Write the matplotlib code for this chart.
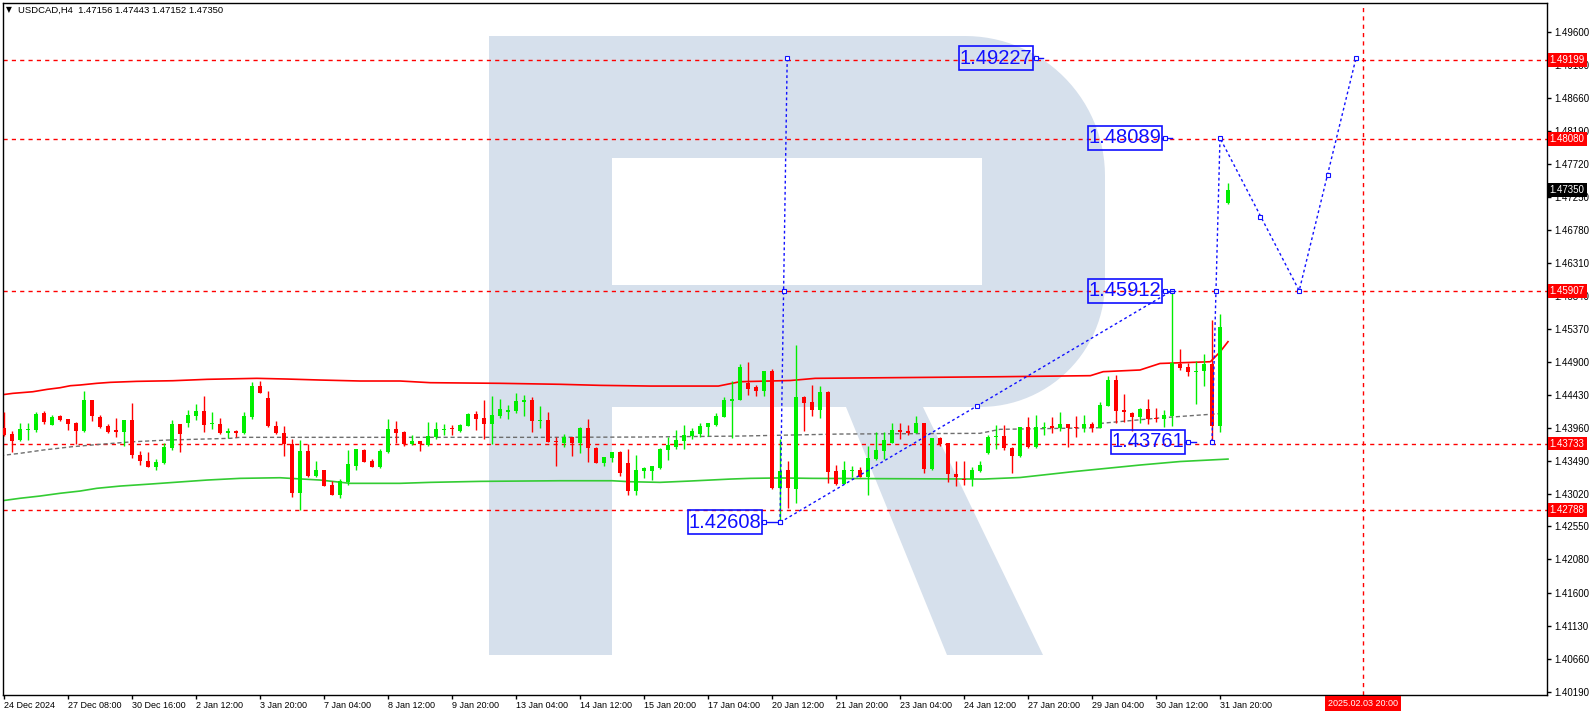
import matplotlib
matplotlib.use('Agg')
import matplotlib.pyplot as plt
import matplotlib.transforms as mtrans
import numpy as np
from matplotlib import font_manager
from matplotlib.patches import Polygon, Rectangle

W, H = 1596, 716

# ---- data (H4 bars) ----
opens = [1.43949, 1.43868, 1.43782, 1.43925, 1.43925, 1.44172, 1.43996, 1.44129, 1.44082, 1.44029,
         1.43911, 1.44353, 1.44115, 1.43982, 1.43925, 1.43901, 1.44068, 1.43568, 1.43483, 1.43393,
         1.43450, 1.43673, 1.44011, 1.44021, 1.44125, 1.44196, 1.44006, 1.44011, 1.43886, 1.43911,
         1.43878, 1.44115, 1.44552, 1.44386, 1.43982, 1.43886, 1.43725, 1.43031, 1.43626, 1.43269,
         1.43355, 1.43141, 1.42998, 1.43188, 1.43416, 1.43640, 1.43483, 1.43402, 1.43616, 1.43939,
         1.43901, 1.43721, 1.43768, 1.43711, 1.43821, 1.43925, 1.43958, 1.43911, 1.43986, 1.44153,
         1.44092, 1.44011, 1.44125, 1.44186, 1.44196, 1.44329, 1.44353, 1.44058, 1.44068, 1.43758,
         1.43744, 1.43829, 1.43744, 1.43949, 1.43673, 1.43459, 1.43530, 1.43616, 1.43459, 1.43060,
         1.43345, 1.43345, 1.43388, 1.43640, 1.43687, 1.43768, 1.43839, 1.43868, 1.43972, 1.43996,
         1.44115, 1.44339, 1.44353, 1.44595, 1.44538, 1.44481, 1.44767, 1.43094, 1.43355, 1.43080,
         1.44392, 1.44320, 1.44210, 1.44471, 1.43341, 1.43155, 1.43345, 1.43355, 1.43259, 1.43511,
         1.43630, 1.43744, 1.43925, 1.43911, 1.43886, 1.44021, 1.43369, 1.43807, 1.43735, 1.43298,
         1.43226, 1.43222, 1.43345, 1.43593, 1.43821, 1.43839, 1.43673, 1.43559, 1.43964, 1.43678,
         1.43949, 1.43982, 1.43958, 1.44011, 1.43958, 1.43949, 1.44011, 1.43958, 1.44272, 1.44638,
         1.44210, 1.44172, 1.44115, 1.44225, 1.44092, 1.44082, 1.44129, 1.44862, 1.44819, 1.44757,
         1.44771, 1.44862, 1.43986, 1.47156]
highs = [1.44186, 1.43915, 1.44029, 1.44021, 1.44186, 1.44196, 1.44139, 1.44139, 1.44085, 1.44035,
         1.44481, 1.44360, 1.44139, 1.44011, 1.44096, 1.44075, 1.44314, 1.43626, 1.43616, 1.43511,
         1.43744, 1.44068, 1.44015, 1.44210, 1.44291, 1.44414, 1.44186, 1.44092, 1.43954, 1.43925,
         1.44186, 1.44614, 1.44624, 1.44481, 1.44053, 1.43982, 1.43797, 1.43782, 1.43721, 1.43483,
         1.43360, 1.43202, 1.43226, 1.43640, 1.43654, 1.43654, 1.43511, 1.43650, 1.44082, 1.44053,
         1.43915, 1.43854, 1.43770, 1.44043, 1.44043, 1.44011, 1.43996, 1.44011, 1.44172, 1.44200,
         1.44353, 1.44410, 1.44363, 1.44282, 1.44448, 1.44424, 1.44400, 1.44267, 1.44177, 1.43829,
         1.43868, 1.43832, 1.43972, 1.44078, 1.43678, 1.43544, 1.43616, 1.43630, 1.43650, 1.43568,
         1.43402, 1.43415, 1.43664, 1.43821, 1.43925, 1.43996, 1.43958, 1.44021, 1.44029, 1.44172,
         1.44400, 1.44624, 1.44866, 1.44899, 1.44562, 1.44770, 1.44795, 1.43793, 1.43483, 1.45137,
         1.44410, 1.44567, 1.44552, 1.44486, 1.43426, 1.43483, 1.43416, 1.43402, 1.43697, 1.43901,
         1.43901, 1.44021, 1.44021, 1.43996, 1.44125, 1.44029, 1.43818, 1.43829, 1.43738, 1.43483,
         1.43483, 1.43402, 1.43483, 1.43854, 1.43996, 1.43996, 1.43687, 1.43972, 1.44106, 1.44139,
         1.44043, 1.44106, 1.44186, 1.44015, 1.44125, 1.44139, 1.44043, 1.44329, 1.44695, 1.44709,
         1.44434, 1.44175, 1.44243, 1.44363, 1.44235, 1.44210, 1.45912, 1.45076, 1.44885, 1.44909,
         1.45007, 1.45490, 1.45582, 1.47443]
lows = [1.43840, 1.43616, 1.43775, 1.43782, 1.43901, 1.44011, 1.43990, 1.44058, 1.43925, 1.43721,
        1.43901, 1.44053, 1.43958, 1.43886, 1.43829, 1.43697, 1.43530, 1.43426, 1.43395, 1.43355,
        1.43445, 1.43640, 1.43616, 1.43972, 1.44068, 1.43901, 1.43935, 1.43868, 1.43807, 1.43829,
        1.43872, 1.44078, 1.44448, 1.43964, 1.43868, 1.43554, 1.42974, 1.42788, 1.43259, 1.43259,
        1.43126, 1.42995, 1.42960, 1.43141, 1.43355, 1.43469, 1.43393, 1.43379, 1.43601, 1.43735,
        1.43701, 1.43711, 1.43630, 1.43701, 1.43792, 1.43854, 1.43854, 1.43901, 1.43982, 1.43925,
        1.43797, 1.43721, 1.44092, 1.44082, 1.44172, 1.44125, 1.43901, 1.43949, 1.43755, 1.43412,
        1.43687, 1.43554, 1.43601, 1.43473, 1.43450, 1.43412, 1.43473, 1.43269, 1.42998, 1.42998,
        1.43236, 1.43212, 1.43365, 1.43497, 1.43654, 1.43654, 1.43797, 1.43821, 1.43839, 1.43986,
        1.44106, 1.43807, 1.44350, 1.44430, 1.44405, 1.44405, 1.43084, 1.42608, 1.42809, 1.42880,
        1.43915, 1.44129, 1.44092, 1.43165, 1.43148, 1.43151, 1.43259, 1.43250, 1.42998, 1.43497,
        1.43507, 1.43735, 1.43792, 1.43854, 1.43878, 1.43316, 1.43355, 1.43701, 1.43188, 1.43131,
        1.43141, 1.43131, 1.43331, 1.43583, 1.43650, 1.43640, 1.43316, 1.43544, 1.43664, 1.43664,
        1.43854, 1.43878, 1.43911, 1.43678, 1.43821, 1.43892, 1.43892, 1.43949, 1.44267, 1.44021,
        1.44043, 1.43915, 1.44029, 1.44011, 1.44043, 1.43972, 1.43982, 1.44774, 1.44695, 1.44291,
        1.44557, 1.43761, 1.43892, 1.47152]
closes = [1.43854, 1.43772, 1.43939, 1.43939, 1.44153, 1.44043, 1.44110, 1.44068, 1.44011, 1.43911,
          1.44353, 1.44125, 1.43972, 1.43896, 1.43896, 1.44068, 1.43568, 1.43487, 1.43402, 1.43469,
          1.43678, 1.44011, 1.43868, 1.44139, 1.44196, 1.43996, 1.44029, 1.43886, 1.43915, 1.43878,
          1.44125, 1.44552, 1.44457, 1.43986, 1.43878, 1.43725, 1.43031, 1.43626, 1.43269, 1.43355,
          1.43131, 1.42998, 1.43202, 1.43440, 1.43654, 1.43473, 1.43402, 1.43626, 1.43939, 1.43886,
          1.43721, 1.43768, 1.43721, 1.43839, 1.43939, 1.43939, 1.43935, 1.43996, 1.44153, 1.44082,
          1.44011, 1.44139, 1.44225, 1.44210, 1.44339, 1.44353, 1.44058, 1.44068, 1.43758, 1.43750,
          1.43829, 1.43744, 1.43949, 1.43664, 1.43459, 1.43536, 1.43616, 1.43308, 1.43060, 1.43355,
          1.43388, 1.43412, 1.43650, 1.43711, 1.43782, 1.43854, 1.43911, 1.43982, 1.44021, 1.44125,
          1.44353, 1.44363, 1.44819, 1.44516, 1.44481, 1.44767, 1.43094, 1.43345, 1.43094, 1.44392,
          1.44306, 1.44210, 1.44471, 1.43331, 1.43151, 1.43355, 1.43350, 1.43259, 1.43521, 1.43640,
          1.43782, 1.43925, 1.43901, 1.43878, 1.44021, 1.43369, 1.43815, 1.43721, 1.43293, 1.43250,
          1.43212, 1.43355, 1.43426, 1.43829, 1.43839, 1.43664, 1.43559, 1.43964, 1.43678, 1.43964,
          1.43972, 1.43958, 1.44011, 1.43949, 1.43949, 1.44011, 1.43958, 1.44282, 1.44638, 1.44196,
          1.44177, 1.44115, 1.44225, 1.44082, 1.44078, 1.44139, 1.44876, 1.44805, 1.44757, 1.44767,
          1.44862, 1.43986, 1.45392, 1.47350]

# indicator lines (bar index, price)
upper_x = [-0.5, 1.1, 3.6, 5.4, 7, 8.3, 9.5, 11.6, 13.3, 16.6, 21.1, 25.4, 31.6, 35.4, 39.5, 44.5,
           49.5, 53.3, 62, 69.5, 74.5, 80.8, 89.3, 92, 98.3, 101.4, 124.5, 135.8, 137.4, 142,
           144.5, 150.8, 152, 153]
upper_y = [1.44424, 1.44448, 1.44471, 1.44505, 1.44528, 1.44557, 1.44567, 1.44591, 1.44605, 1.44619,
           1.44628, 1.44648, 1.44662, 1.44652, 1.44638, 1.44624, 1.44624, 1.44600, 1.44591, 1.44577,
           1.44562, 1.44552, 1.44552, 1.44614, 1.44631, 1.44662, 1.44685, 1.44700, 1.44757, 1.44781,
           1.44874, 1.44899, 1.45038, 1.45185]
lower_x = [-0.5, 2, 4.5, 7, 9.5, 11.6, 14.5, 18.3, 22.4, 25.4, 29.5, 34.5, 35.8, 39.5, 43.3, 49.5,
           53.3, 59.5, 69.5, 76, 78.3, 82, 85.8, 88.3, 90.8, 93.3, 97, 101, 122.4, 127, 133.6,
           142, 147, 153]
lower_y = [1.42913, 1.42952, 1.42984, 1.43023, 1.43055, 1.43094, 1.43126, 1.43155, 1.43188, 1.43212,
           1.43236, 1.43245, 1.43236, 1.43212, 1.43165, 1.43165, 1.43179, 1.43193, 1.43202, 1.43202,
           1.43188, 1.43179, 1.43198, 1.43212, 1.43226, 1.43236, 1.43242, 1.43236, 1.43226, 1.43248,
           1.43331, 1.43426, 1.43476, 1.43511]
mid_x = [-0.5, 2, 4.9, 8.5, 12, 16.1, 20.4, 28.3, 29.5, 67.4, 79.5, 92, 104.5, 122, 124.5, 137,
         137.2, 144.5, 152.5]
mid_y = [1.43559, 1.43593, 1.43640, 1.43687, 1.43721, 1.43758, 1.43782, 1.43807, 1.43821, 1.43821,
         1.43825, 1.43839, 1.43868, 1.43878, 1.43935, 1.43958, 1.44021, 1.44098, 1.44163]

# horizontal levels and their axis labels
levels = [1.49199, 1.48080, 1.45907, 1.43733, 1.42788]
level_labels = ['1.49199', '1.48080', '1.45907', '1.43733', '1.42788']
last_price = 1.47350

# forecast drawing
wave_x = [97, 97.9]
wave_y = [1.42608, 1.49227]
trend_x = [97, 146]
trend_y = [1.42608, 1.45912]
fcast_x = [151, 152, 161.9, 169]
fcast_y = [1.43761, 1.48089, 1.45912, 1.49227]
mark_x = [97.55, 121.6, 151.5, 157, 165.5]
mark_y = [1.45912, 1.44268, 1.45912, 1.46967, 1.47561]
tag_text = ['1.42608', '1.49227', '1.48089', '1.45912', '1.43761']
tag_right = [94.7, 128.6, 144.75, 144.75, 147.6]
tag_end = [96.6, 129.9, 146.0, 146.4, 149.0]
tag_y = [1.42608, 1.49225, 1.48089, 1.45912, 1.43761]
vline_x = 169.9
vline_label = '2025.02.03 20:00'

# axis labels
time_ticks = list(range(0, 153, 8))
time_labels = ['24 Dec 2024', '27 Dec 08:00', '30 Dec 16:00', '2 Jan 12:00', '3 Jan 20:00',
               '7 Jan 04:00', '8 Jan 12:00', '9 Jan 20:00', '13 Jan 04:00', '14 Jan 12:00',
               '15 Jan 20:00', '17 Jan 04:00', '20 Jan 12:00', '21 Jan 20:00', '23 Jan 04:00',
               '24 Jan 12:00', '27 Jan 20:00', '29 Jan 04:00', '30 Jan 12:00', '31 Jan 20:00']
price_labels = ['1.49600', '1.49130', '1.48660', '1.48190', '1.47720', '1.47250', '1.46780',
                '1.46310', '1.45840', '1.45370', '1.44900', '1.44430', '1.43960', '1.43490',
                '1.43020', '1.42550', '1.42080', '1.41600', '1.41130', '1.40660', '1.40190']
header = 'USDCAD,H4  1.47156 1.47443 1.47152 1.47350'

BULL = '#00ee00'
BEAR = '#ff0000'
BLUE = '#1010ff'
LOGO = '#d6e0ec'

names = {f.name for f in font_manager.fontManager.ttflist}
if 'Liberation Sans Narrow' in names:
    tag_font, tag_size = 'Liberation Sans Narrow', 17
else:
    tag_font, tag_size = 'Liberation Sans', 14.5
plt.rcParams['font.family'] = ['Liberation Sans', 'DejaVu Sans']

fig = plt.figure(figsize=(W / 100, H / 100), dpi=100)
fig.patch.set_facecolor('white')
R_EDGE = 1547
ax = fig.add_axes([3 / W, 1 - 695 / H, (R_EDGE - 3) / W, (695 - 3) / H])
ax.set_facecolor('white')

ppx = 0.0941 / 660  # price per pixel


def fig_xy(pts):
    return [(x / W, 1 - y / H) for x, y in pts]


# watermark "R"
def arc(cx, cy, r, a0, a1, n=30):
    t = np.radians(np.linspace(a0, a1, n))
    return [(cx + r * np.cos(tt), cy - r * np.sin(tt)) for tt in t]

outer = [(489, 36), (965, 36)] + arc(965, 176, 140, 90, 0) + [(1105, 282)] \
    + arc(980, 282, 125, 0, -90) + [(923, 407), (1043, 655), (947, 655), (846, 407),
                                    (612, 407), (612, 655), (489, 655)]
ax.add_patch(Polygon(fig_xy(outer), closed=True, fc=LOGO, ec='none',
                     transform=fig.transFigure, zorder=0.5))
hole = [(612, 158), (982, 158), (982, 285), (612, 285)]
ax.add_patch(Polygon(fig_xy(hole), closed=True, fc='white', ec='none',
                     transform=fig.transFigure, zorder=0.6))

# levels
for v in levels:
    ax.axhline(v, color='red', lw=1, ls=(0, (3, 3)), zorder=2)
ax.axvline(vline_x, color='red', lw=1, ls=(0, (3, 3)), zorder=2)

# indicators
ax.plot(upper_x, upper_y, color='red', lw=1.2, zorder=2.5)
ax.plot(lower_x, lower_y, color='#33cc33', lw=1.2, zorder=2.5)
ax.plot(mid_x, mid_y, color='#6e6e6e', lw=1, ls=(0, (3, 2)), zorder=2.5)

# candles
o = np.array(opens)
c = np.array(closes)
hi = np.array(highs)
lo = np.array(lows)
idx = np.arange(len(o))
cols = np.where(c >= o, BULL, BEAR)
ax.vlines(idx, lo, hi, colors=cols, lw=1, zorder=3)
ax.bar(idx, np.maximum(np.abs(c - o), 0.00013), bottom=np.minimum(o, c), width=0.62,
       color=cols, lw=0, zorder=4)

# forecast
for xs, ys in [(wave_x, wave_y), (trend_x, trend_y), (fcast_x, fcast_y)]:
    ax.plot(xs, ys, color=BLUE, lw=1, ls=(0, (2, 2)), zorder=5)
    ax.plot(xs, ys, ls='none', marker='s', ms=2.5, mfc='white', mec=BLUE, mew=0.8, zorder=5)
ax.plot(mark_x, mark_y, ls='none', marker='s', ms=2.5, mfc='white', mec=BLUE, mew=0.8, zorder=5)

bw = 74 / 8
bh = 24 * ppx
for t, xr, xe, v in zip(tag_text, tag_right, tag_end, tag_y):
    ax.add_patch(Rectangle((xr - bw, v - bh / 2), bw, bh, fill=False, ec=BLUE, lw=1.2, zorder=6))
    ax.text(xr - bw / 2, v, t, ha='center', va='center', color=BLUE, family=tag_font,
            fontsize=tag_size, zorder=6)
    ax.plot([xr, xe], [v, v], color=BLUE, lw=1, zorder=6)
    ax.plot([xr + 0.35], [v], ls='none', marker='s', ms=2.5, mfc='white', mec=BLUE, mew=0.8, zorder=6)

# axes
ax.set_xlim(-0.125, -0.125 + (R_EDGE - 3) / 8)
ax.set_ylim(1.496 - 663 * ppx, 1.496 + 29 * ppx)
ax.yaxis.tick_right()
ax.set_yticks([float(s) for s in price_labels])
ax.set_yticklabels(price_labels)
ax.set_xticks(time_ticks)
ax.set_xticklabels(time_labels)
for lab in ax.get_xticklabels():
    lab.set_ha('left')
ax.tick_params(axis='both', direction='out', length=3, width=1, colors='black')
ax.tick_params(axis='x', pad=1, labelsize=6.5)
ax.tick_params(axis='y', pad=2, labelsize=7)
for sp in ax.spines.values():
    sp.set_color('black')
    sp.set_linewidth(1)

ytr = mtrans.blended_transform_factory(ax.transAxes, ax.transData)
for v, t in zip(levels, level_labels):
    ax.text(1.0018, v, t, transform=ytr, ha='left', va='center', color='white', fontsize=7,
            clip_on=False, zorder=7,
            bbox=dict(boxstyle='square,pad=0.2', fc='#ff0000', ec='none'))
ax.text(1.0018, last_price, '%.5f' % last_price, transform=ytr, ha='left', va='center',
        color='white', fontsize=7, clip_on=False, zorder=7,
        bbox=dict(boxstyle='square,pad=0.2', fc='black', ec='none'))
xtr = mtrans.blended_transform_factory(ax.transData, ax.transAxes)
ax.text(vline_x, -0.006, vline_label, transform=xtr, ha='center', va='top', color='white',
        fontsize=6.5, clip_on=False, zorder=7,
        bbox=dict(boxstyle='square,pad=0.3', fc='#ff0000', ec='none'))

fig.text(6 / W, 1 - 10 / H, '\u25bc', fontsize=5.5, va='center', ha='left', family=['DejaVu Sans'])
fig.text(18 / W, 1 - 10 / H, header, fontsize=6.8, va='center', ha='left')

fig.savefig('out.png', dpi=100)
